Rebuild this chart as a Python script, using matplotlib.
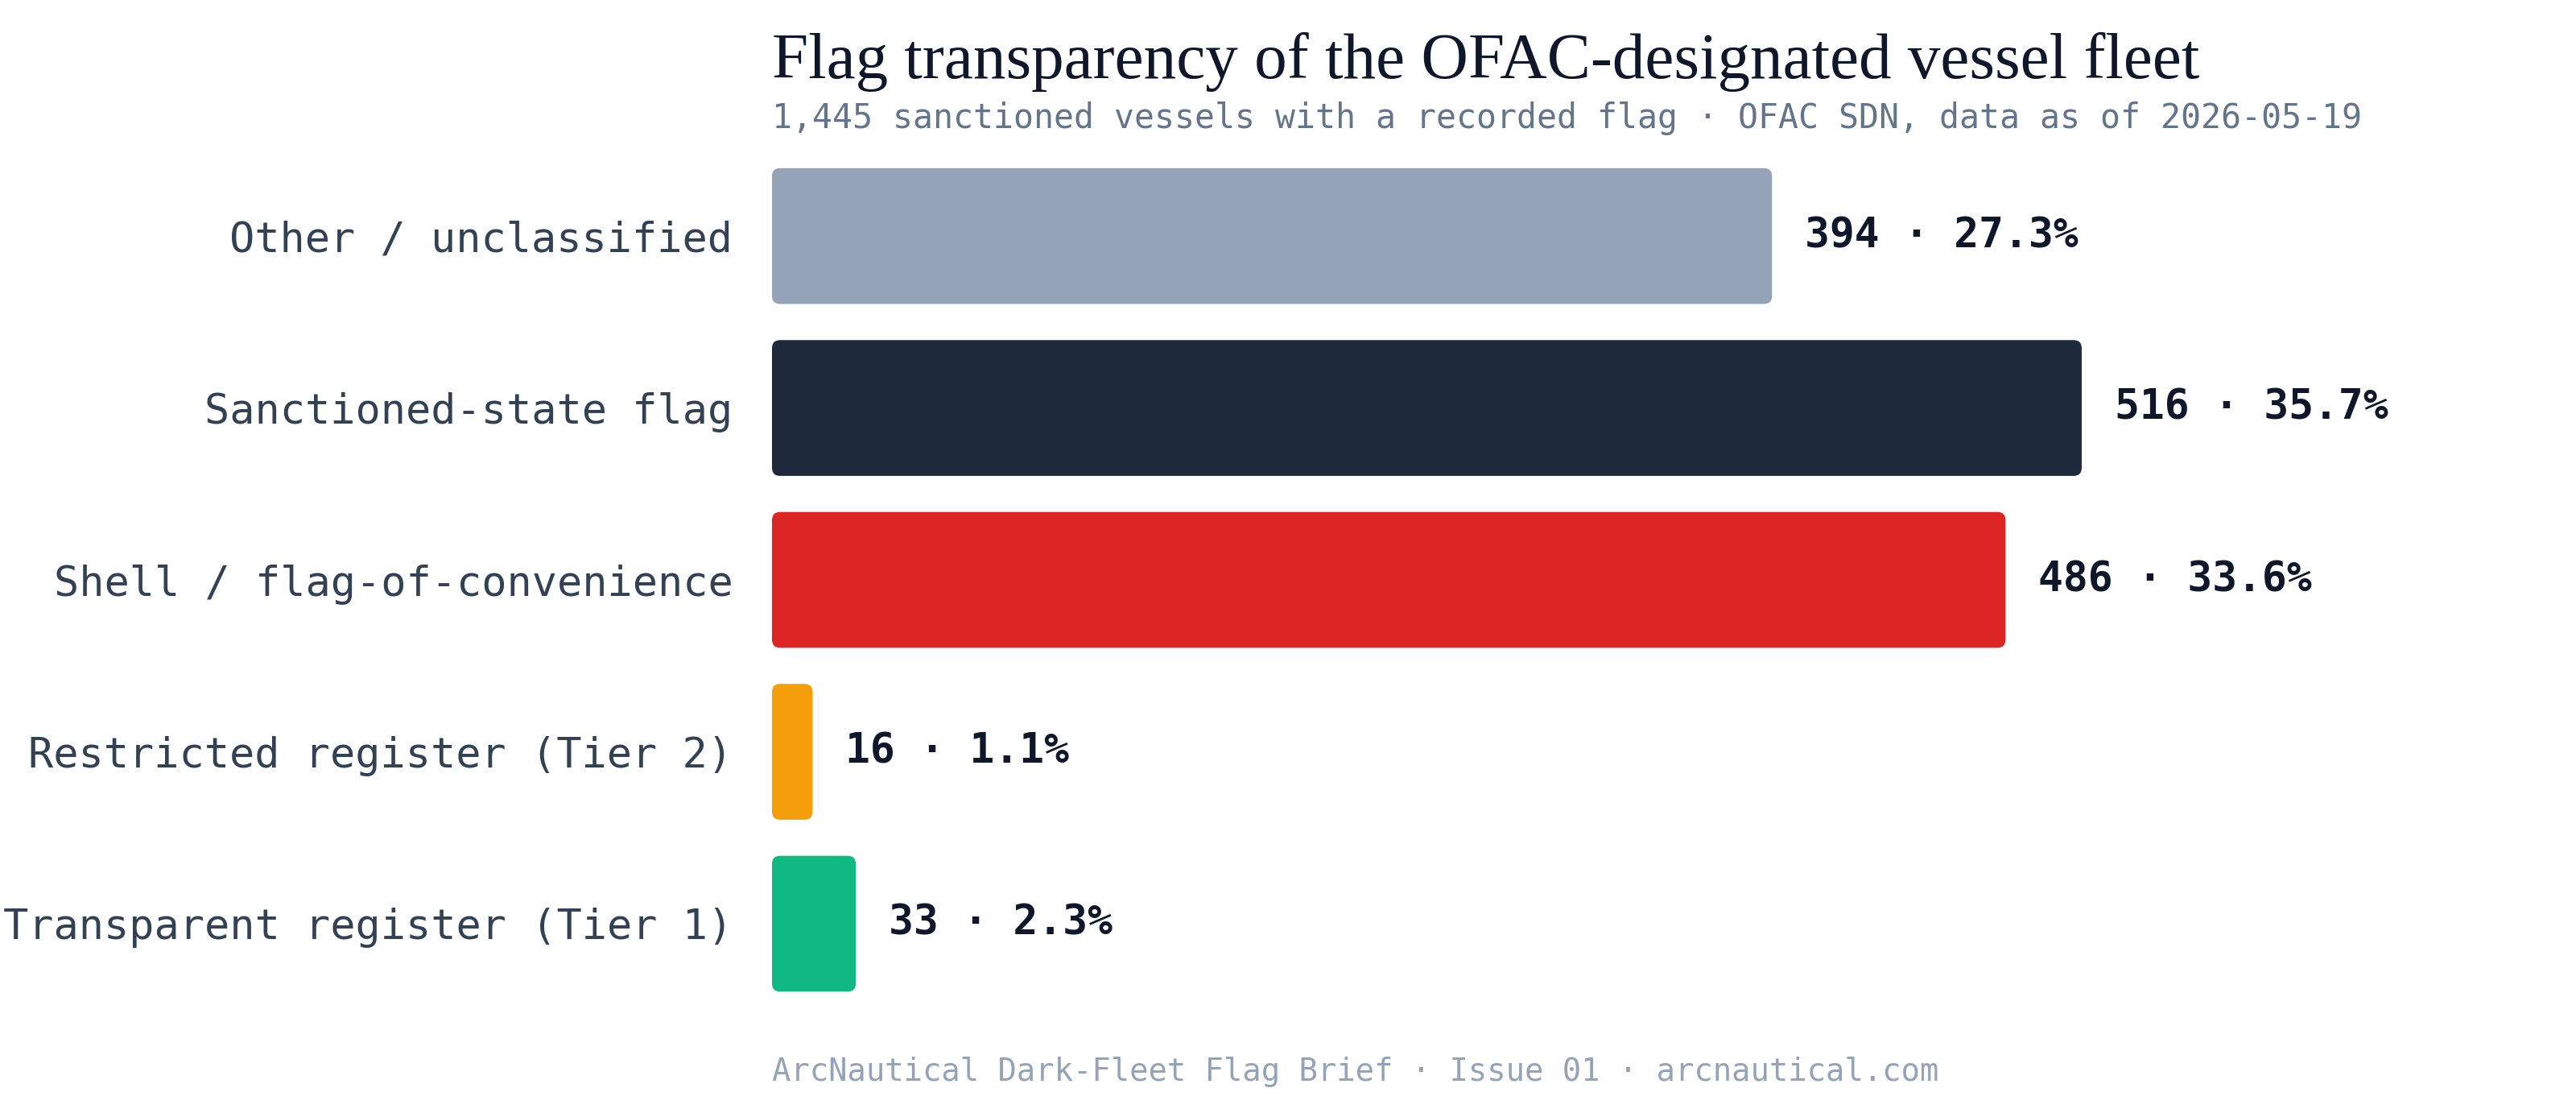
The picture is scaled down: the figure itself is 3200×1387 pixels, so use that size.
import matplotlib
matplotlib.use("Agg")
import matplotlib.pyplot as plt
from matplotlib.patches import FancyBboxPatch

# data
categories = ["Other / unclassified", "Sanctioned-state flag", "Shell / flag-of-convenience",
              "Restricted register (Tier 2)", "Transparent register (Tier 1)"]
counts = [394, 516, 486, 16, 33]
shares = [27.3, 35.7, 33.6, 1.1, 2.3]
colors = ["#94a3b8", "#1e293b", "#dc2626", "#f59e0b", "#10b981"]

title = "Flag transparency of the OFAC-designated vessel fleet"
subtitle = "1,445 sanctioned vessels with a recorded flag \u00b7 OFAC SDN, data as of 2026-05-19"
footer = "ArcNautical Dark-Fleet Flag Brief \u00b7 Issue 01 \u00b7 arcnautical.com"

MONO = "DejaVu Sans Mono"
SERIF = "Liberation Serif"

W, H, DPI = 3200, 1387, 200
fig = plt.figure(figsize=(W / DPI, H / DPI), dpi=DPI, facecolor="white")
ax = fig.add_axes([959 / W, 0.0807, 2141 / W, 0.8003])

xmax = 2141 / 3.153
ax.set_xlim(0, xmax)
ax.set_ylim(len(categories) - 0.4, -0.6)

bar_h = 0.79
ypos = list(range(len(categories)))
bars = ax.barh(ypos, counts, height=bar_h, color=colors)

# swap plain bars for rounded ones
rx = 10 / 3.153
ry = 10 / 213.5
for b, c in zip(bars, colors):
    x0, y0 = b.get_x(), b.get_y()
    w, h = b.get_width(), b.get_height()
    b.set_visible(False)
    p = FancyBboxPatch((x0, y0), w, h,
                       boxstyle=f"round,pad=0,rounding_size={rx}",
                       mutation_aspect=ry / rx,
                       facecolor=c, edgecolor="none")
    ax.add_patch(p)

for y, n, s in zip(ypos, counts, shares):
    ax.text(n + 41 / 3.153, y, f"{n} \u00b7 {s:.1f}%", va="center", ha="left",
            fontsize=18.5, fontweight="bold", family=MONO, color="#0f172a")

ax.set_yticks(ypos)
ax.set_yticklabels(categories, family=MONO, fontsize=18.7, color="#334155")
ax.tick_params(axis="y", length=0, pad=17.5)
ax.set_xticks([])
for sp in ax.spines.values():
    sp.set_visible(False)

fig.text(959 / W, 1 - 77 / H, title, family=SERIF, fontsize=29.2, color="#0f172a",
         va="center", ha="left")
fig.text(959 / W, 1 - 147 / H, subtitle, family=MONO, fontsize=14.95, color="#64748b",
         va="center", ha="left")
fig.text(959 / W, 1 - 1331 / H, footer, family=MONO, fontsize=14, color="#94a3b8",
         va="center", ha="left")

fig.savefig("out.png", dpi=DPI, facecolor="white")
